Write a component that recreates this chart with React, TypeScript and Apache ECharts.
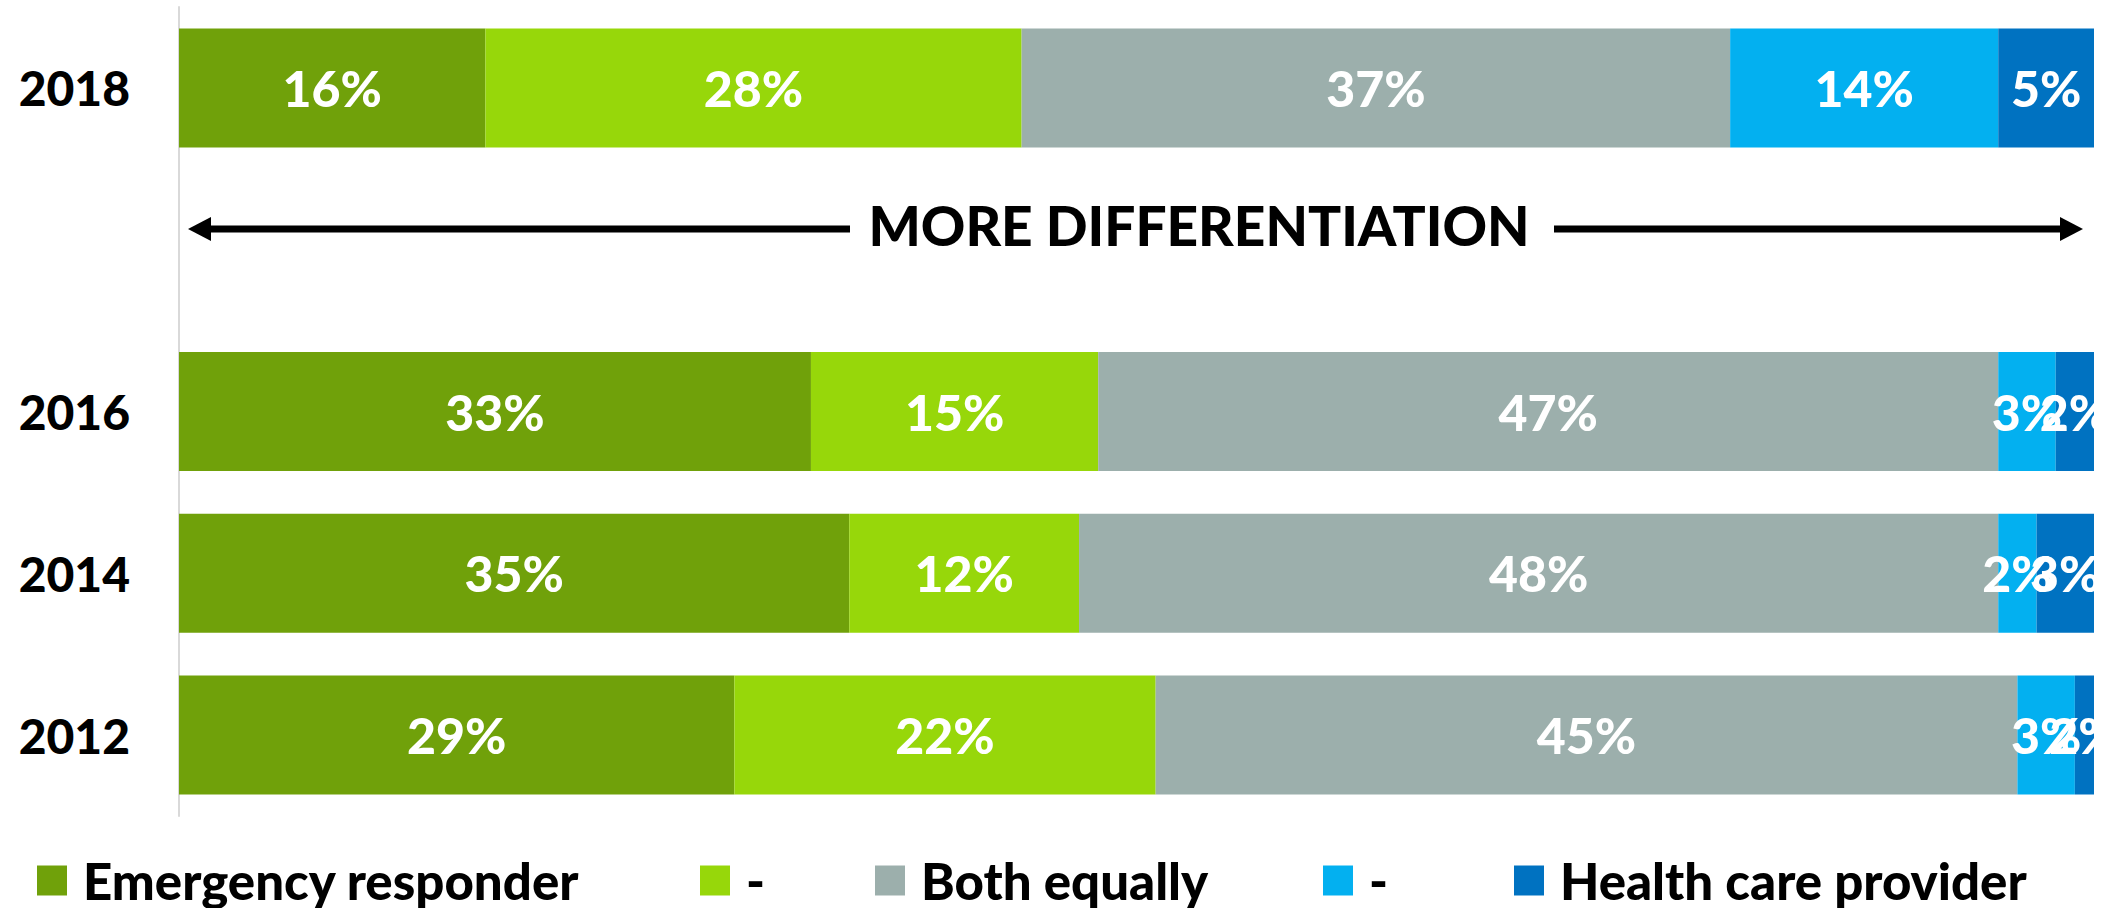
import React, { useEffect, useRef } from "react";
import * as echarts from "echarts";

const years = ["2012", "2014", "2016", "", "2018"];
const seriesNames = ["Emergency responder", "-", "Both equally", "- ", "Health care provider"];
const colors = ["#70A10A", "#97D70A", "#9CAFAC", "#03B0F0", "#0072C1"];
// values per series, ordered as years (bottom to top); null = spacer row
const emergencyResponder = [29, 35, 33, null, 16];
const leanEmergency = [22, 12, 15, null, 28];
const bothEqually = [45, 48, 47, null, 37];
const leanHealth = [3, 2, 3, null, 14];
const healthCareProvider = [2, 3, 2, null, 5];
const seriesValues = [emergencyResponder, leanEmergency, bothEqually, leanHealth, healthCareProvider];
const legendLefts = [37, 700, 875, 1323, 1514];
const annotation = "MORE DIFFERENTIATION";

const FONT = 'Lato, "Noto Sans", sans-serif';

export default function App() {
  const ref = useRef<HTMLDivElement>(null);
  useEffect(() => {
    if (!ref.current) return;
    const chart = echarts.init(ref.current, null, { renderer: "svg" });
    const arrowY = 229;
    chart.setOption({
      animation: false,
      backgroundColor: "#ffffff",
      grid: { left: 179, right: 16, top: 7, bottom: 92, containLabel: false },
      xAxis: { type: "value", min: 0, max: 100, show: false },
      yAxis: {
        type: "category",
        data: years,
        axisLine: { show: true, lineStyle: { color: "#d9d9d9", width: 2 } },
        axisTick: { show: false },
        splitLine: { show: false },
        axisLabel: {
          margin: 49,
          fontSize: 48,
          fontWeight: 900,
          fontFamily: FONT,
          color: "#000000",
        },
      },
      legend: seriesNames.map((n, i) => ({
        data: [n],
        left: legendLefts[i],
        top: 855,
        padding: 0,
        itemWidth: 30,
        itemHeight: 30,
        icon: "rect",
        selectedMode: false,
        formatter: (name: string) => name.trim(),
        textStyle: {
          fontSize: 51,
          fontWeight: 900,
          fontFamily: FONT,
          color: "#000000",
          padding: [0, 0, 0, 11],
        },
      })),
      series: seriesNames.map((n, i) => ({
        name: n,
        type: "bar",
        stack: "total",
        barWidth: 119,
        color: colors[i],
        data: seriesValues[i],
        itemStyle: { color: colors[i] },
        label: {
          show: true,
          position: "inside",
          formatter: "{c}%",
          color: "#ffffff",
          fontSize: 50,
          fontWeight: 900,
          fontFamily: FONT,
        },
      })),
      graphic: [
        {
          type: "rect",
          z: 100,
          shape: { x: 2095, y: 0, width: 20, height: 830 },
          style: { fill: "#ffffff" },
        },
        {
          type: "line",
          shape: { x1: 205, y1: arrowY, x2: 850, y2: arrowY },
          style: { stroke: "#000000", lineWidth: 7 },
        },
        {
          type: "polygon",
          shape: { points: [[188, arrowY], [211, arrowY - 12], [211, arrowY + 12]] },
          style: { fill: "#000000" },
        },
        {
          type: "line",
          shape: { x1: 1554, y1: arrowY, x2: 2066, y2: arrowY },
          style: { stroke: "#000000", lineWidth: 7 },
        },
        {
          type: "polygon",
          shape: { points: [[2083, arrowY], [2060, arrowY - 12], [2060, arrowY + 12]] },
          style: { fill: "#000000" },
        },
        {
          type: "text",
          x: 1199,
          y: 225,
          style: {
            text: annotation,
            fontSize: 55,
            fontWeight: 900,
            fontFamily: FONT,
            fill: "#000000",
            textAlign: "center",
            textVerticalAlign: "middle",
          },
        },
      ],
    });
    return () => chart.dispose();
  }, []);
  return (
    <div
      ref={ref}
      style={{ position: "fixed", left: 0, top: 0, width: 2110, height: 908, background: "#fff" }}
    />
  );
}
